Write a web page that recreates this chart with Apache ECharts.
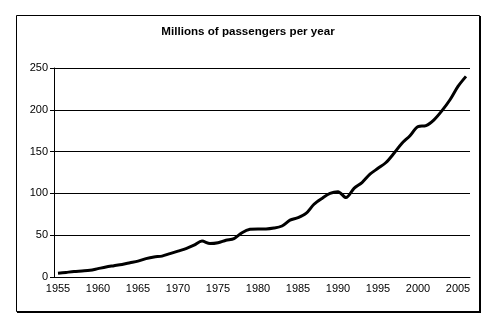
<!DOCTYPE html>
<html>
<head>
<meta charset="utf-8">
<script src="https://cdn.jsdelivr.net/npm/echarts@6/dist/echarts.min.js"></script>
<style>
html,body{margin:0;padding:0;background:#fff;}
#c{width:496px;height:329px;}
</style>
</head>
<body>
<div id="c"></div>
<script>
var years = [];
for (var y = 1955; y <= 2006; y++) years.push(String(y));
var passengers = [4.5, 5.5, 6.5, 7.2, 8, 10, 12, 13.5, 15, 17,
  19, 22, 24, 25, 28, 31, 34, 38, 43, 40,
  41, 44, 46, 53, 57, 57.5, 57.5, 58.5, 61, 68,
  71, 76, 87, 94, 100, 102, 95, 106, 113, 123,
  130, 137, 148, 160, 169, 180, 181, 188, 199, 212,
  228, 240];
var titleText = 'Millions of passengers per year';

var chart = echarts.init(document.getElementById('c'), null, {renderer: 'canvas'});
chart.setOption({
  animation: false,
  backgroundColor: '#fff',
  title: {
    text: titleText,
    left: 'center',
    top: 21,
    textStyle: {fontFamily: 'Liberation Sans, Arial', fontSize: 11.6, fontWeight: 'bold', color: '#000'}
  },
  graphic: [
    {type: 'rect', shape: {x: 16.5, y: 15.5, width: 463, height: 296}, style: {fill: 'none', stroke: '#000', lineWidth: 1}, z: 0},
    {type: 'line', shape: {x1: 480, y1: 16, x2: 480, y2: 313}, style: {stroke: '#000', lineWidth: 2}},
    {type: 'line', shape: {x1: 17, y1: 312, x2: 481, y2: 312}, style: {stroke: '#000', lineWidth: 2}}
  ],
  grid: {left: 54, right: 26, top: 68, bottom: 52, containLabel: false},
  xAxis: {
    type: 'category',
    data: years,
    boundaryGap: true,
    axisLine: {lineStyle: {color: '#000', width: 1}},
    axisTick: {interval: 0, length: 3, lineStyle: {color: '#000'}},
    axisLabel: {interval: 4, color: '#000', fontFamily: 'Liberation Sans, Arial', fontSize: 11, margin: 6},
    splitLine: {show: false}
  },
  yAxis: {
    type: 'value',
    min: 0, max: 250, interval: 50,
    axisLine: {show: true, lineStyle: {color: '#000', width: 1}},
    axisTick: {show: true, length: 4, lineStyle: {color: '#000'}},
    axisLabel: {color: '#000', fontFamily: 'Liberation Sans, Arial', fontSize: 11, margin: 6},
    splitLine: {show: true, lineStyle: {color: '#000', width: 1}}
  },
  series: [{
    type: 'line',
    data: passengers,
    smooth: 0.3,
    showSymbol: false,
    lineStyle: {color: '#000', width: 3}
  }]
});
</script>
</body>
</html>
